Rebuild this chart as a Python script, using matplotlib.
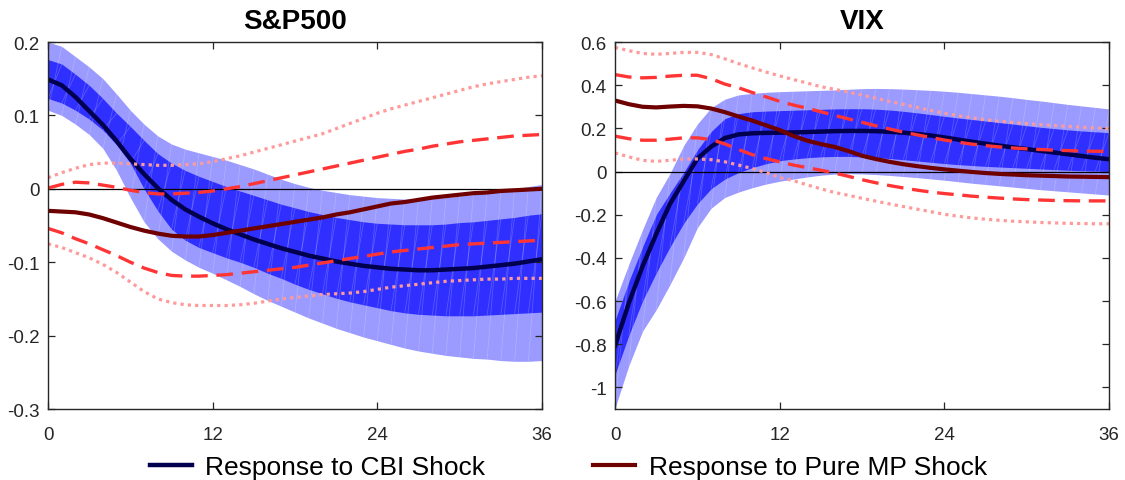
import numpy as np
import matplotlib
matplotlib.use("Agg")
import matplotlib.pyplot as plt
from matplotlib.lines import Line2D

plt.rcParams['font.family'] = ['Liberation Sans', 'DejaVu Sans']

# Horizon in months
months = list(range(37))
x_ticks = [0, 12, 24, 36]

# ---------------- S&P500 ----------------
sp_cbi = [0.149, 0.141, 0.125, 0.106, 0.087, 0.065, 0.041, 0.020, 0.001, -0.015,
          -0.028, -0.038, -0.047, -0.055, -0.062, -0.069, -0.075, -0.081, -0.086, -0.091,
          -0.095, -0.099, -0.102, -0.105, -0.107, -0.109, -0.110, -0.111, -0.111, -0.110,
          -0.109, -0.108, -0.106, -0.104, -0.102, -0.099, -0.096]
sp_cbi_hi90 = [0.200, 0.194, 0.180, 0.166, 0.150, 0.129, 0.107, 0.088, 0.072, 0.061,
               0.054, 0.049, 0.044, 0.039, 0.033, 0.027, 0.020, 0.013, 0.007, 0.002,
               -0.002, -0.005, -0.008, -0.010, -0.012, -0.013, -0.014, -0.014, -0.013, -0.012,
               -0.010, -0.008, -0.005, -0.003, 0.000, 0.003, 0.006]
sp_cbi_lo90 = [0.107, 0.100, 0.088, 0.074, 0.055, 0.025, -0.012, -0.045, -0.068, -0.085,
               -0.097, -0.107, -0.115, -0.124, -0.133, -0.143, -0.152, -0.160, -0.168, -0.176,
               -0.183, -0.190, -0.196, -0.202, -0.207, -0.212, -0.217, -0.221, -0.224, -0.227,
               -0.229, -0.231, -0.232, -0.234, -0.235, -0.235, -0.234]
sp_cbi_hi68 = [0.176, 0.170, 0.156, 0.141, 0.123, 0.103, 0.085, 0.066, 0.048, 0.035,
               0.025, 0.017, 0.010, 0.003, -0.003, -0.009, -0.015, -0.021, -0.026, -0.031,
               -0.035, -0.039, -0.042, -0.045, -0.047, -0.048, -0.049, -0.049, -0.049, -0.048,
               -0.046, -0.045, -0.043, -0.041, -0.039, -0.036, -0.034]
sp_cbi_lo68 = [0.123, 0.117, 0.107, 0.095, 0.080, 0.060, 0.035, 0.000, -0.030, -0.055,
               -0.070, -0.080, -0.087, -0.094, -0.100, -0.107, -0.115, -0.122, -0.130, -0.137,
               -0.143, -0.149, -0.154, -0.158, -0.162, -0.166, -0.169, -0.171, -0.172, -0.173,
               -0.173, -0.173, -0.172, -0.171, -0.170, -0.169, -0.168]
sp_mp = [-0.030, -0.031, -0.032, -0.035, -0.040, -0.046, -0.052, -0.057, -0.061, -0.064,
         -0.065, -0.065, -0.063, -0.060, -0.057, -0.054, -0.051, -0.048, -0.045, -0.042,
         -0.039, -0.035, -0.032, -0.028, -0.024, -0.020, -0.018, -0.015, -0.012, -0.010,
         -0.008, -0.006, -0.005, -0.003, -0.002, -0.001, 0.000]
sp_mp_hi68 = [0.001, 0.006, 0.009, 0.008, 0.005, 0.002, -0.002, -0.005, -0.007, -0.007,
              -0.006, -0.005, -0.003, 0.000, 0.003, 0.007, 0.011, 0.015, 0.019, 0.023,
              0.027, 0.031, 0.035, 0.039, 0.043, 0.047, 0.051, 0.054, 0.058, 0.061,
              0.064, 0.066, 0.068, 0.070, 0.072, 0.073, 0.074]
sp_mp_lo68 = [-0.054, -0.060, -0.068, -0.075, -0.083, -0.091, -0.100, -0.108, -0.114, -0.118,
              -0.119, -0.119, -0.118, -0.117, -0.115, -0.113, -0.111, -0.109, -0.107, -0.104,
              -0.101, -0.098, -0.095, -0.092, -0.089, -0.086, -0.084, -0.082, -0.080, -0.078,
              -0.076, -0.075, -0.074, -0.073, -0.072, -0.071, -0.070]
sp_mp_hi90 = [0.015, 0.022, 0.028, 0.033, 0.035, 0.035, 0.034, 0.033, 0.032, 0.032,
              0.033, 0.034, 0.037, 0.041, 0.045, 0.050, 0.055, 0.060, 0.065, 0.070,
              0.075, 0.082, 0.089, 0.096, 0.103, 0.109, 0.114, 0.119, 0.124, 0.129,
              0.134, 0.139, 0.143, 0.146, 0.149, 0.152, 0.154]
sp_mp_lo90 = [-0.075, -0.080, -0.087, -0.094, -0.103, -0.114, -0.127, -0.140, -0.150, -0.155,
              -0.158, -0.159, -0.159, -0.159, -0.158, -0.156, -0.153, -0.150, -0.148, -0.146,
              -0.144, -0.143, -0.142, -0.140, -0.137, -0.134, -0.132, -0.130, -0.128, -0.126,
              -0.125, -0.124, -0.123, -0.123, -0.122, -0.122, -0.122]

# ---------------- VIX ----------------
vix_cbi = [-0.806, -0.610, -0.440, -0.290, -0.150, -0.045, 0.060, 0.115, 0.155, 0.172,
           0.177, 0.179, 0.180, 0.181, 0.183, 0.185, 0.187, 0.188, 0.188, 0.187,
           0.184, 0.180, 0.174, 0.167, 0.158, 0.148, 0.138, 0.129, 0.120, 0.112,
           0.104, 0.096, 0.088, 0.080, 0.072, 0.064, 0.057]
vix_cbi_hi90 = [-0.600, -0.430, -0.270, -0.120, -0.010, 0.120, 0.220, 0.295, 0.335, 0.355,
                0.362, 0.367, 0.370, 0.372, 0.374, 0.376, 0.378, 0.381, 0.384, 0.385,
                0.384, 0.382, 0.379, 0.376, 0.372, 0.367, 0.361, 0.355, 0.349, 0.342,
                0.334, 0.327, 0.319, 0.311, 0.304, 0.297, 0.290]
vix_cbi_lo90 = [-1.095, -0.900, -0.740, -0.640, -0.524, -0.400, -0.260, -0.170, -0.120, -0.095,
                -0.075, -0.058, -0.045, -0.035, -0.025, -0.017, -0.012, -0.010, -0.011, -0.014,
                -0.018, -0.023, -0.028, -0.034, -0.040, -0.047, -0.054, -0.060, -0.066, -0.072,
                -0.078, -0.084, -0.089, -0.094, -0.099, -0.104, -0.109]
vix_cbi_hi68 = [-0.690, -0.510, -0.350, -0.200, -0.100, -0.005, 0.100, 0.185, 0.245, 0.268,
                0.277, 0.280, 0.282, 0.284, 0.286, 0.288, 0.290, 0.291, 0.291, 0.289,
                0.285, 0.279, 0.272, 0.264, 0.256, 0.248, 0.241, 0.234, 0.227, 0.220,
                0.212, 0.205, 0.199, 0.193, 0.188, 0.184, 0.180]
vix_cbi_lo68 = [-0.940, -0.760, -0.600, -0.470, -0.350, -0.240, -0.150, -0.080, -0.035, -0.005,
                0.018, 0.036, 0.050, 0.058, 0.064, 0.068, 0.070, 0.070, 0.068, 0.065,
                0.060, 0.055, 0.049, 0.043, 0.037, 0.032, 0.028, 0.024, 0.021, 0.018,
                0.015, 0.012, 0.009, 0.006, 0.004, 0.002, 0.000]
vix_mp = [0.329, 0.312, 0.300, 0.297, 0.301, 0.304, 0.302, 0.292, 0.275, 0.255,
          0.236, 0.214, 0.192, 0.165, 0.143, 0.127, 0.114, 0.095, 0.073, 0.058,
          0.045, 0.034, 0.025, 0.017, 0.010, 0.004, -0.002, -0.007, -0.011, -0.014,
          -0.017, -0.019, -0.021, -0.023, -0.024, -0.025, -0.026]
vix_mp_hi68 = [0.449, 0.438, 0.434, 0.436, 0.442, 0.446, 0.446, 0.430, 0.405, 0.388,
               0.366, 0.346, 0.325, 0.308, 0.293, 0.277, 0.260, 0.244, 0.228, 0.212,
               0.197, 0.183, 0.170, 0.158, 0.146, 0.136, 0.127, 0.120, 0.114, 0.109,
               0.105, 0.102, 0.099, 0.097, 0.095, 0.094, 0.093]
vix_mp_lo68 = [0.164, 0.152, 0.145, 0.145, 0.150, 0.156, 0.156, 0.148, 0.128, 0.102,
               0.078, 0.060, 0.045, 0.030, 0.018, 0.006, -0.007, -0.022, -0.038, -0.052,
               -0.065, -0.076, -0.086, -0.095, -0.102, -0.108, -0.114, -0.119, -0.123, -0.127,
               -0.130, -0.132, -0.134, -0.135, -0.136, -0.136, -0.136]
vix_mp_hi90 = [0.575, 0.560, 0.547, 0.543, 0.547, 0.552, 0.552, 0.542, 0.522, 0.500,
               0.480, 0.461, 0.443, 0.426, 0.410, 0.393, 0.381, 0.368, 0.354, 0.340,
               0.325, 0.311, 0.297, 0.283, 0.270, 0.259, 0.249, 0.240, 0.233, 0.227,
               0.222, 0.217, 0.213, 0.209, 0.205, 0.202, 0.199]
vix_mp_lo90 = [0.086, 0.068, 0.052, 0.047, 0.052, 0.058, 0.058, 0.055, 0.045, 0.030,
               0.014, -0.005, -0.028, -0.042, -0.062, -0.080, -0.097, -0.110, -0.124, -0.137,
               -0.150, -0.162, -0.174, -0.186, -0.198, -0.207, -0.215, -0.221, -0.226, -0.230,
               -0.233, -0.236, -0.238, -0.240, -0.241, -0.242, -0.242]

titles = ["S&P500", "VIX"]
legend_labels = ["Response to CBI Shock", "Response to Pure MP Shock"]

sp_yticks = [-0.3, -0.2, -0.1, 0, 0.1, 0.2]
sp_ylabels = ["-0.3", "-0.2", "-0.1", "0", "0.1", "0.2"]
vix_yticks = [-1, -0.8, -0.6, -0.4, -0.2, 0, 0.2, 0.4, 0.6]
vix_ylabels = ["-1", "-0.8", "-0.6", "-0.4", "-0.2", "0", "0.2", "0.4", "0.6"]

C_OUTER = "#9A9AFF"
C_INNER = "#2F2FFF"
C_CBI = "#00004F"
C_MP = "#6E0000"
C_DASH = "#FF3535"
C_DOT = "#FF9A9A"
C_AX = "#262626"

fig = plt.figure(figsize=(11.25, 4.81), dpi=100)
ax1 = fig.add_axes([0.0427, 0.1476, 0.4391, 0.763])
ax2 = fig.add_axes([0.5467, 0.1476, 0.4391, 0.763])


def band(ax, lo, hi, color):
    m = np.array(months, dtype=float)
    lo = np.asarray(lo)
    hi = np.asarray(hi)
    ax.fill_between(m, lo, hi, color=color, linewidth=0, zorder=1)
    # faint seams between the patch pieces
    for i in range(len(m) - 1):
        ax.plot([m[i], m[i + 1]], [lo[i], hi[i + 1]], color="white",
                lw=0.6, alpha=0.2, zorder=1.1, solid_capstyle="butt")


def panel(ax, title, cbi, cbi_hi90, cbi_lo90, cbi_hi68, cbi_lo68,
          mp, mp_hi68, mp_lo68, mp_hi90, mp_lo90, ylim, yticks, ylabels):
    band(ax, cbi_lo90, cbi_hi90, C_OUTER)
    band(ax, cbi_lo68, cbi_hi68, C_INNER)
    ax.axhline(0, color="black", lw=0.9, zorder=2)
    ax.plot(months, cbi, color=C_CBI, lw=3.2, zorder=3)
    ax.plot(months, mp, color=C_MP, lw=3.0, zorder=4)
    for hi_lo in (mp_hi68, mp_lo68):
        ax.plot(months, hi_lo, color=C_DASH, lw=2.4, dashes=(5.0, 2.6),
                dash_capstyle="butt", zorder=5)
    for hi_lo in (mp_hi90, mp_lo90):
        ax.plot(months, hi_lo, color=C_DOT, lw=2.3, dashes=(1.0, 1.3),
                dash_capstyle="butt", zorder=5)
    ax.set_xlim(0, 36)
    ax.set_ylim(*ylim)
    ax.set_xticks(x_ticks)
    ax.set_xticklabels([str(t) for t in x_ticks])
    ax.set_yticks(yticks)
    ax.set_yticklabels(ylabels)
    ax.tick_params(direction="in", length=5, width=0.9, colors=C_AX,
                   labelsize=13.5, top=True, right=True, pad=6)
    ax.tick_params(axis="x", pad=12)
    for s in ax.spines.values():
        s.set_color(C_AX)
        s.set_linewidth(1.0)
        s.set_zorder(6)
    ax.set_title(title, fontsize=20, fontweight="bold", pad=10, color="black")


panel(ax1, titles[0], sp_cbi, sp_cbi_hi90, sp_cbi_lo90, sp_cbi_hi68, sp_cbi_lo68,
      sp_mp, sp_mp_hi68, sp_mp_lo68, sp_mp_hi90, sp_mp_lo90,
      (-0.3, 0.2), sp_yticks, sp_ylabels)
panel(ax2, titles[1], vix_cbi, vix_cbi_hi90, vix_cbi_lo90, vix_cbi_hi68, vix_cbi_lo68,
      vix_mp, vix_mp_hi68, vix_mp_lo68, vix_mp_hi90, vix_mp_lo90,
      (-1.1, 0.6), vix_yticks, vix_ylabels)

handles = [Line2D([], [], color=C_CBI, lw=3.2), Line2D([], [], color=C_MP, lw=3.0)]
fig.legend(handles, legend_labels, loc="center", bbox_to_anchor=(0.505, 0.026),
           ncol=2, frameon=False, fontsize=19, handlelength=1.6,
           handletextpad=0.5, columnspacing=4.1)

fig.savefig("out.png", dpi=100)
